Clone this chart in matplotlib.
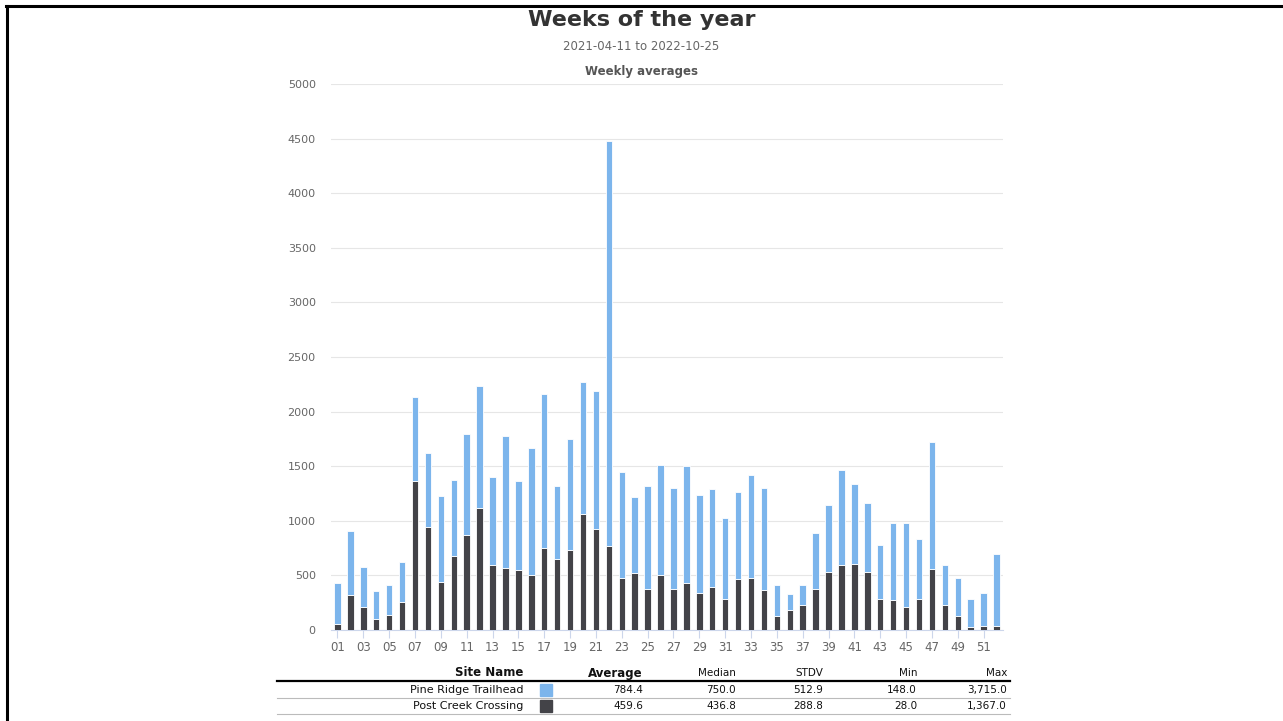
import matplotlib
matplotlib.use("Agg")
import matplotlib.pyplot as plt
from matplotlib.lines import Line2D
from matplotlib.patches import Rectangle

weeks = [f"{i:02d}" for i in range(1, 53)]
post_creek = [55, 322, 209, 104, 141, 258, 1367, 942, 442, 675, 874, 1116, 595, 564, 552, 500,
              748, 653, 730, 1058, 923, 767, 478, 521, 374, 500, 374, 432, 337, 393, 288, 463,
              472, 365, 132, 181, 230, 374, 531, 595, 604, 531, 288, 279, 209, 288, 555, 230,
              132, 28, 37, 37]
totals = [430, 911, 574, 353, 411, 623, 2135, 1625, 1230, 1374, 1797, 2233, 1405, 1779, 1365, 1671,
          2162, 1316, 1748, 2270, 2193, 4480, 1451, 1221, 1316, 1509, 1297, 1500, 1239, 1288, 1027, 1267,
          1420, 1297, 408, 331, 408, 892, 1141, 1463, 1334, 1162, 776, 978, 978, 834, 1724, 595,
          478, 285, 343, 699]
pine_ridge = [t - p for t, p in zip(totals, post_creek)]

series_names = ["Pine Ridge Trailhead", "Post Creek Crossing"]
series_colors = ["#7cb5ec", "#434348"]
stat_headers = ["Average", "Median", "STDV", "Min", "Max"]
stats = [["784.4", "750.0", "512.9", "148.0", "3,715.0"],
         ["459.6", "436.8", "288.8", "28.0", "1,367.0"]]

title = "Weeks of the year"
subtitle = "2021-04-11 to 2022-10-25"
axis_title = "Weekly averages"

W, H = 1283, 721
fig = plt.figure(figsize=(W / 100, H / 100), dpi=100)
fig.patch.set_facecolor("white")

def fx(px):
    return px / W

def fy(py):
    return 1 - py / H

ax = fig.add_axes([fx(331), fy(630), fx(1003) - fx(331), fy(84) - fy(630)])
x = list(range(len(weeks)))
ax.bar(x, post_creek, width=0.5, color=series_colors[1], edgecolor="white", linewidth=0.6, zorder=3)
ax.bar(x, pine_ridge, width=0.5, bottom=post_creek, color=series_colors[0], edgecolor="white",
       linewidth=0.6, zorder=3)
ax.set_xlim(-0.5, len(weeks) - 0.5)
ax.set_ylim(0, 5000)
ax.set_yticks(range(0, 5001, 500))
ax.set_yticklabels([str(v) for v in range(0, 5001, 500)], fontsize=8, color="#666666")
ax.set_xticks(x[::2])
ax.set_xticklabels(weeks[::2], fontsize=8.5, color="#666666")
ax.grid(axis="y", color="#e6e6e6", linewidth=0.8, zorder=0)
for s in ["top", "right", "left"]:
    ax.spines[s].set_visible(False)
ax.spines["bottom"].set_color("#ccd6eb")
ax.tick_params(axis="y", length=0, pad=11)
ax.tick_params(axis="x", length=6, color="#ccd6eb", pad=2)

fig.text(0.5, fy(20), title, ha="center", va="center", fontsize=16, fontweight="bold", color="#333333")
fig.text(0.5, fy(47), subtitle, ha="center", va="center", fontsize=8.5, color="#666666")
fig.text(0.5, fy(71), axis_title, ha="center", va="center", fontsize=8.5, fontweight="bold", color="#555555")

# Stats table
col_right = [643, 736, 823, 917, 1007]
header_y, row_ys = 673, [690, 706]
fig.text(fx(523), fy(header_y), "Site Name", ha="right", va="center", fontsize=8.5, fontweight="bold", color="#111111")
for i, h in enumerate(stat_headers):
    bold = h == "Average"
    fig.text(fx(col_right[i]), fy(header_y), h, ha="right", va="center",
             fontsize=8.5 if bold else 7.5, fontweight="bold" if bold else "normal", color="#111111")
fig.add_artist(Line2D([fx(277), fx(1010)], [fy(681), fy(681)], color="black", linewidth=1.6))
for r, (name, vals) in enumerate(zip(series_names, stats)):
    yy = row_ys[r]
    fig.text(fx(523), fy(yy), name, ha="right", va="center", fontsize=8, color="#111111")
    fig.add_artist(Rectangle((fx(540), fy(yy + 6)), fx(12), 12 / H, color=series_colors[r]))
    for i, v in enumerate(vals):
        fig.text(fx(col_right[i]), fy(yy), v, ha="right", va="center", fontsize=7.5, color="#111111")
    fig.add_artist(Line2D([fx(277), fx(1010)], [fy(yy + 8), fy(yy + 8)], color="#bbbbbb", linewidth=0.8))

# Frame lines
fig.add_artist(Line2D([fx(6), 1], [fy(6), fy(6)], color="black", linewidth=2.2))
fig.add_artist(Line2D([fx(7), fx(7)], [fy(6), 0], color="black", linewidth=2.2))

fig.savefig("out.png", dpi=100, facecolor="white")
